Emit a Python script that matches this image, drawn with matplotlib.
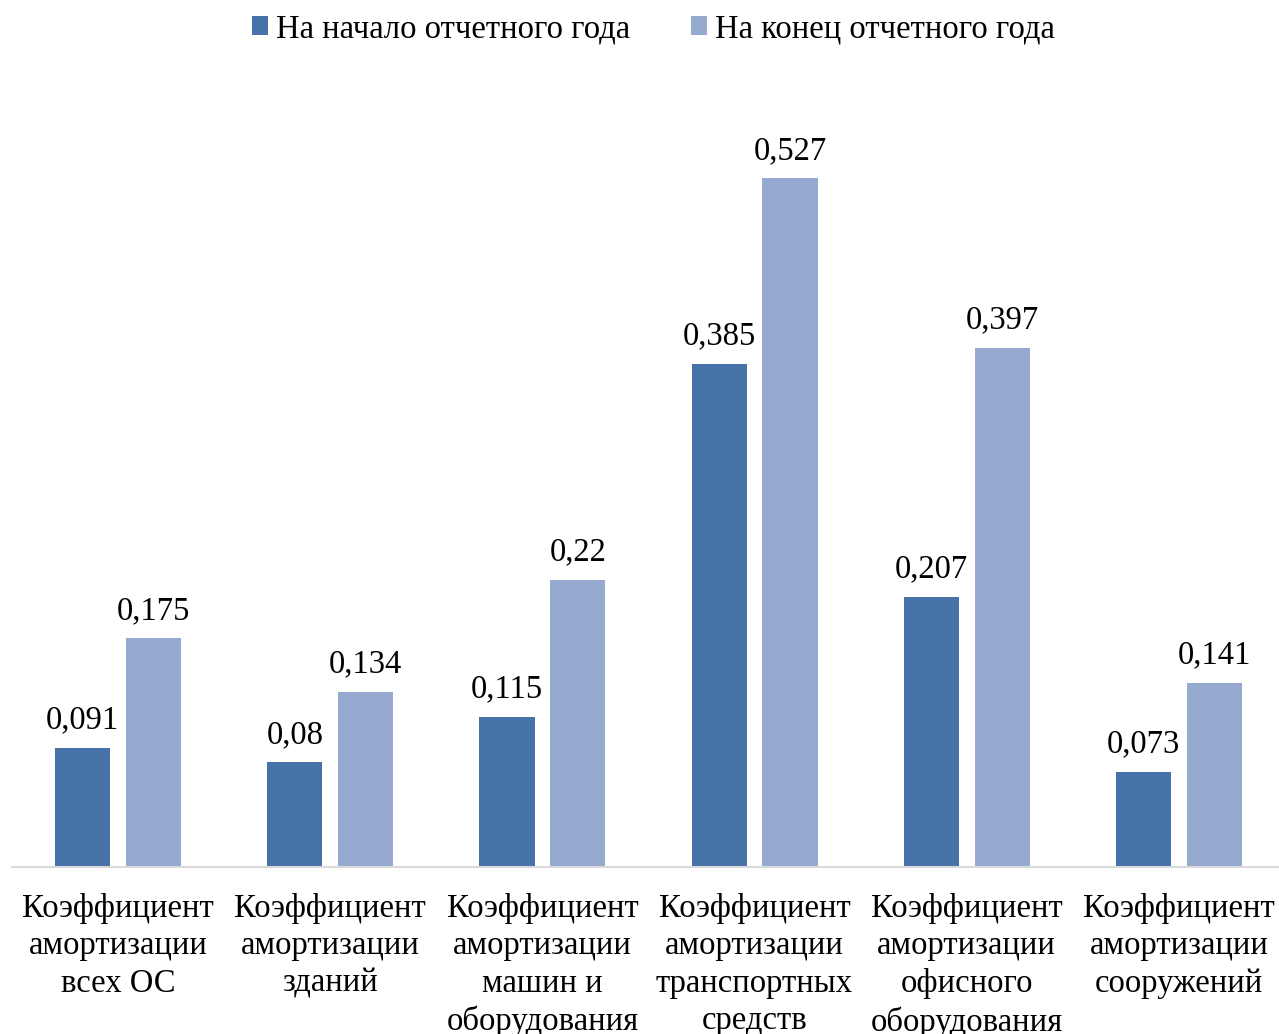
import numpy as np
import matplotlib.pyplot as plt

plt.rcParams['font.family'] = ['Liberation Serif', 'DejaVu Serif']

categories = ['Коэффициент\nамортизации\nвсех ОС',
              'Коэффициент\nамортизации\nзданий',
              'Коэффициент\nамортизации\nмашин и\nоборудования',
              'Коэффициент\nамортизации\nтранспортных\nсредств',
              'Коэффициент\nамортизации\nофисного\nоборудования',
              'Коэффициент\nамортизации\nсооружений']
start_year = [0.091, 0.08, 0.115, 0.385, 0.207, 0.073]
end_year = [0.175, 0.134, 0.22, 0.527, 0.397, 0.141]
series_names = ['На начало отчетного года', 'На конец отчетного года']
colors = ['#4672A7', '#95A9D1']

W, H = 1279, 1034
fs = 23.5
fig = plt.figure(figsize=(W / 100, H / 100), dpi=100)
# axes in pixel coords: left 12, right 1285, bottom 867, top 83
ax = fig.add_axes([12 / W, (H - 867) / H, 1273 / W, (867 - 83) / H])

x = np.arange(len(categories))
bw = 0.26
off = 0.167
b1 = ax.bar(x - off, start_year, bw, color=colors[0], label=series_names[0])
b2 = ax.bar(x + off, end_year, bw, color=colors[1], label=series_names[1])

for bars, vals in ((b1, start_year), (b2, end_year)):
    for rect, v in zip(bars, vals):
        ax.annotate(f'{v:g}'.replace('.', ','),
                    (rect.get_x() + rect.get_width() / 2, rect.get_height()),
                    xytext=(0, 9), textcoords='offset points',
                    ha='center', va='bottom', fontsize=fs, color='#000000')

ax.set_xlim(-0.5, len(categories) - 0.5)
ax.set_ylim(0, 0.6)
ax.set_yticks([])
ax.set_xticks(x)
ax.set_xticklabels(categories, fontsize=fs, linespacing=1.28, va='top')
ax.tick_params(axis='x', length=0, pad=19)
for side in ['top', 'right', 'left']:
    ax.spines[side].set_visible(False)
ax.spines['bottom'].set_color('#D9D9D9')
ax.spines['bottom'].set_linewidth(1.5)

fig.legend(loc='center', bbox_to_anchor=(0.511, 1 - 29 / H), ncol=2,
           frameon=False, fontsize=fs, handlelength=0.5, handleheight=0.5,
           handletextpad=0.25, columnspacing=1.85)

fig.savefig('out.png', dpi=100)
